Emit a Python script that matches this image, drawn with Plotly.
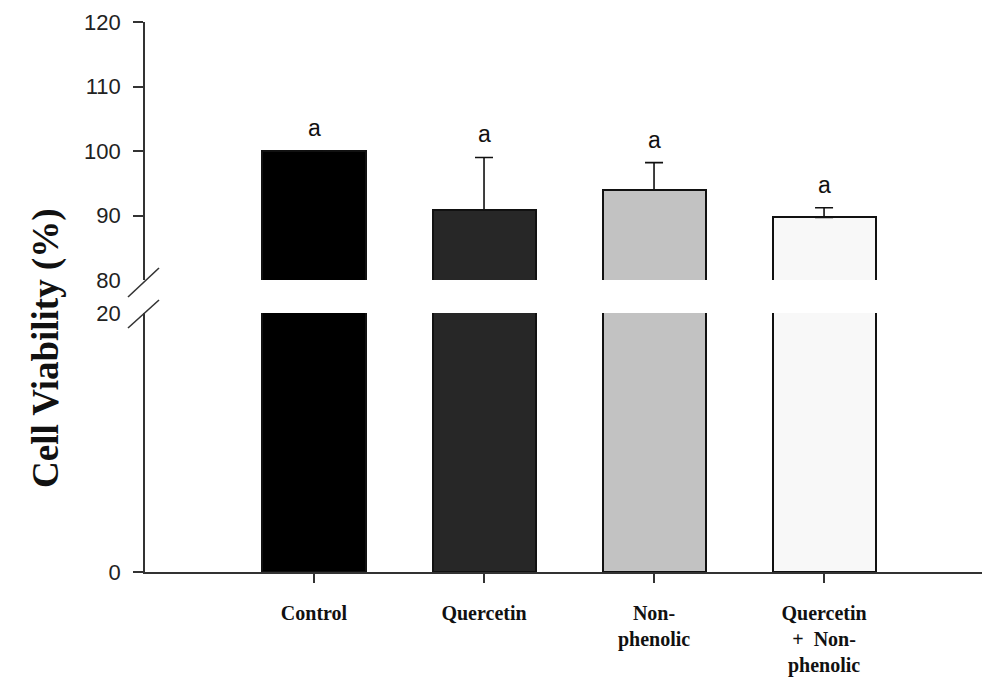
import plotly.graph_objects as go

# Cell viability per treatment (mean and upper SD), with significance letters
categories = ["Control", "Quercetin", "Non-phenolic", "Quercetin + Non-phenolic"]
tick_labels = ["Control", "Quercetin", "Non-<br>phenolic", "Quercetin<br>+  Non-<br>phenolic"]
viability = [100.0, 90.9, 94.0, 89.7]
sd_upper = [0.0, 8.1, 4.2, 1.5]
letters = ["a", "a", "a", "a"]
bar_colors = ["#000000", "#272727", "#c2c2c2", "#f8f8f8"]

top_ticks = [80, 90, 100, 110, 120]
bottom_ticks = [0, 20]

W, H = 982, 681
ML, MR, MT, MB = 145, 0, 22, 109
plot_h = H - MT - MB
top_dom = [(H - MB - 280) / plot_h, 1.0]
bot_dom = [0.0, (H - MB - 313) / plot_h]

x_idx = list(range(len(categories)))
x_range = [-0.994, 3.929]

fig = go.Figure()

# upper panel (80-120) with SD whiskers
fig.add_trace(go.Bar(
    x=x_idx, y=viability, xaxis="x2", yaxis="y2", width=0.606,
    marker=dict(color=bar_colors, line=dict(color="#111111", width=2)),
    error_y=dict(type="data", symmetric=False, array=sd_upper,
                 arrayminus=[0] * len(sd_upper), color="#111111",
                 thickness=1.6, width=9),
    showlegend=False, hoverinfo="skip",
))
# lower panel (0-20)
fig.add_trace(go.Bar(
    x=x_idx, y=viability, xaxis="x", yaxis="y", width=0.606,
    marker=dict(color=bar_colors, line=dict(color="#111111", width=2)),
    showlegend=False, hoverinfo="skip",
))

for i, (v, e, t) in enumerate(zip(viability, sd_upper, letters)):
    fig.add_annotation(x=i, y=v + e, xref="x2", yref="y2", text=t,
                       showarrow=False, yanchor="middle", yshift=23,
                       font=dict(family="Liberation Sans", size=23, color="#111111"))

# axis-break slashes on the y axis
def px_to_paper(px, py):
    return (px - ML) / (W - ML - MR), (H - MB - py) / plot_h

for (x0, y0, x1, y1) in [(128, 297, 159, 268), (128, 328, 159, 300)]:
    a0 = px_to_paper(x0, y0)
    a1 = px_to_paper(x1, y1)
    fig.add_shape(type="line", xref="paper", yref="paper",
                  x0=a0[0], y0=a0[1], x1=a1[0], y1=a1[1],
                  line=dict(color="#333333", width=1.6))

ytick_font = dict(family="Liberation Sans", size=22, color="#222222")
fig.update_layout(
    width=W, height=H,
    margin=dict(l=ML, r=MR, t=MT, b=MB),
    paper_bgcolor="white", plot_bgcolor="white",
    bargap=0,
    xaxis=dict(domain=[0, 1], anchor="y", range=x_range, tickmode="array",
               tickvals=x_idx, ticktext=tick_labels, showline=True,
               linecolor="#333333", linewidth=1.6, ticks="outside", ticklen=9,
               tickcolor="#333333", tickwidth=1.6, showgrid=False, zeroline=False,
               tickfont=dict(family="Liberation Serif", size=20, color="#111111",
                             weight="bold"),
               ticklabelstandoff=13, automargin=False),
    xaxis2=dict(domain=[0, 1], anchor="y2", range=x_range, matches="x",
                showline=False, showticklabels=False, ticks="", showgrid=False,
                zeroline=False),
    yaxis=dict(domain=bot_dom, anchor="x", range=[0, 20], tickmode="array",
               tickvals=bottom_ticks, showline=True, linecolor="#333333",
               linewidth=1.6, ticks="outside", ticklen=10,
               tickcolor="rgba(0,0,0,0)", showgrid=False, zeroline=False,
               tickfont=ytick_font, ticklabelstandoff=8, automargin=False,
               minor=dict(tickmode="array", tickvals=[0], ticks="outside",
                          ticklen=10, tickcolor="#333333", tickwidth=1.6,
                          showgrid=False)),
    yaxis2=dict(domain=top_dom, anchor="x2", range=[80, 120], tickmode="array",
                tickvals=top_ticks, showline=True, linecolor="#333333",
                linewidth=1.6, ticks="outside", ticklen=10,
                tickcolor="rgba(0,0,0,0)", showgrid=False, zeroline=False,
                tickfont=ytick_font, ticklabelstandoff=8, automargin=False,
                minor=dict(tickmode="array", tickvals=[90, 100, 110, 120],
                           ticks="outside", ticklen=10, tickcolor="#333333",
                           tickwidth=1.6, showgrid=False)),
)

# y-axis title spanning both panels
tx, ty = px_to_paper(46, 348)
fig.add_annotation(x=tx, y=ty, xref="paper", yref="paper", text="Cell Viability (%)",
                   textangle=-90, showarrow=False, xanchor="center", yanchor="middle",
                   font=dict(family="Liberation Serif", size=37, color="#111111",
                             weight="bold"))

fig.write_html("out.html")
